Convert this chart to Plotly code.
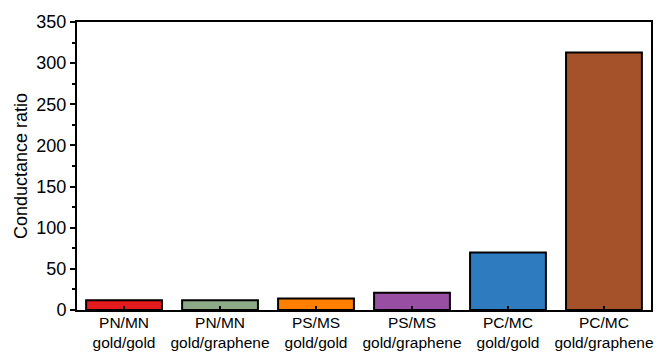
import plotly.graph_objects as go

categories = ["PN/MN<br>gold/gold", "PN/MN<br>gold/graphene", "PS/MS<br>gold/gold",
              "PS/MS<br>gold/graphene", "PC/MC<br>gold/gold", "PC/MC<br>gold/graphene"]
ratios = [12, 12, 14, 21, 70, 313]
colors = ["#E41A1C", "#8CAA86", "#FF7F00", "#984EA3", "#2F7BBF", "#A5522A"]

fig = go.Figure(go.Bar(
    x=list(range(len(categories))), y=ratios,
    marker=dict(color=colors, line=dict(color="black", width=2)),
    width=0.79,
))

fig.update_layout(
    width=662, height=353,
    margin=dict(l=77, r=11, t=22, b=43),
    plot_bgcolor="white", paper_bgcolor="white",
    font=dict(family="Liberation Sans, Arial", size=17, color="black"),
    showlegend=False,
)
fig.update_xaxes(
    range=[-0.49, 5.49], tickmode="array",
    tickvals=list(range(len(categories))), ticktext=categories,
    ticks="inside", ticklen=4, tickwidth=2, tickcolor="black",
    tickfont=dict(size=15.5), ticklabelstandoff=-3,
    showline=True, linewidth=2, linecolor="black", mirror=True,
    showgrid=False, zeroline=False, automargin=False,
)
fig.update_yaxes(
    range=[0, 350], dtick=50,
    ticks="outside", ticklen=5, tickwidth=2, tickcolor="black",
    tickfont=dict(size=18),
    minor=dict(dtick=25, ticks="outside", ticklen=3, tickwidth=2, tickcolor="black"),
    showline=True, linewidth=2, linecolor="black", mirror=True,
    showgrid=False, zeroline=False, automargin=False,
    title=dict(text="Conductance ratio", standoff=4, font=dict(size=18)),
)

fig.write_html("out.html")
